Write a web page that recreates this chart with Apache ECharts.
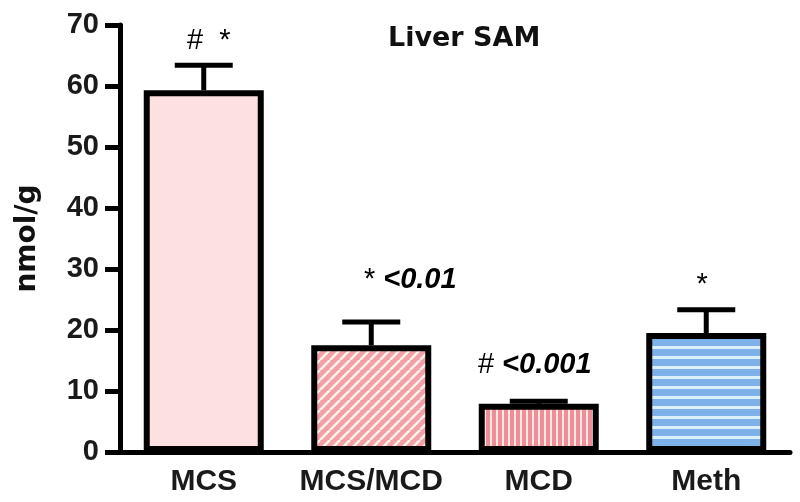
<!DOCTYPE html>
<html><head><meta charset="utf-8">
<script src="https://cdn.jsdelivr.net/npm/echarts@6/dist/echarts.min.js"></script>
<style>html,body{margin:0;padding:0;background:#fff}#c{width:800px;height:502px}</style>
</head><body><div id="c"></div>
<script>
const categories = ['MCS', 'MCS/MCD', 'MCD', 'Meth'];
const means = [59.3, 17.5, 7.9, 19.5];
const sems = [4.1, 3.8, 0.4, 3.8];
const annotations = ['{s|#  *}', '{s|* }{p|<0.01}', '{s|# }{p|<0.001}', '{s|*}'];
const yTicks = [0, 10, 20, 30, 40, 50, 60, 70];

function pattern(kind) {
  const c = document.createElement('canvas');
  const x = c.getContext('2d');
  if (kind === 'diag') {
    c.width = 10; c.height = 10;
    x.fillStyle = '#f2a0a6'; x.fillRect(0, 0, 10, 10);
    x.strokeStyle = '#fdf3ec'; x.lineWidth = 2.5;
    for (let k = -10; k <= 20; k += 10) {
      x.beginPath(); x.moveTo(k, 10); x.lineTo(k + 10, 0); x.stroke();
    }
  } else if (kind === 'vert') {
    c.width = 6; c.height = 6;
    x.fillStyle = '#ef8e98'; x.fillRect(0, 0, 6, 6);
    x.fillStyle = '#fde8e4'; x.fillRect(4, 0, 2, 6);
  } else {
    c.width = 10; c.height = 10;
    x.fillStyle = '#7eb1e8'; x.fillRect(0, 0, 10, 10);
    x.fillStyle = '#dcf0fb'; x.fillRect(0, 6, 10, 3);
  }
  return c;
}
const fills = ['#fde1e2', {image: pattern('diag'), repeat: 'repeat'}, {image: pattern('vert'), repeat: 'repeat'}, {image: pattern('horiz'), repeat: 'repeat'}];
const annOffsets = [[5, -24], [39, -42], [-4, -36], [-4, -25]];

const chart = echarts.init(document.getElementById('c'));
const sans = '"Liberation Sans"';
const wide = '"DejaVu Sans"';
chart.setOption({
  animation: false,
  title: {text: 'Liver SAM', left: 383, top: 20, textStyle: {fontFamily: wide, fontWeight: 'bold', fontSize: 27, color: '#111'}},
  grid: {left: 120, right: 10, top: 25, bottom: 50, outerBoundsMode: 'none', containLabel: false},
  xAxis: {
    type: 'category', data: categories,
    axisLine: {lineStyle: {color: '#000', width: 5}},
    axisTick: {alignWithLabel: true, length: 12, lineStyle: {color: '#000', width: 4}},
    axisLabel: {interval: 0, fontFamily: sans, fontWeight: 'bold', fontSize: 30, color: '#1a1a1a', margin: 15}
  },
  yAxis: {
    type: 'value', min: 0, max: 70, interval: 10,
    name: 'nmol/g', nameLocation: 'middle', nameGap: 78, nameRotate: 90,
    nameTextStyle: {fontFamily: wide, fontWeight: 'bold', fontSize: 28, color: '#111'},
    axisLine: {show: true, lineStyle: {color: '#000', width: 5}},
    axisTick: {show: true, length: 15, lineStyle: {color: '#000', width: 5}},
    axisLabel: {fontFamily: sans, fontWeight: 'bold', fontSize: 29, color: '#1a1a1a', margin: 21,
      formatter: v => yTicks.includes(v) ? String(v) : ''},
    splitLine: {show: false}
  },
  series: [
    {
      type: 'bar', barWidth: 120, z: 2,
      data: means.map((v, i) => ({value: v, itemStyle: {color: fills[i], borderColor: '#000', borderWidth: 6}}))
    },
    {
      type: 'custom', z: 3,
      data: means.map((v, i) => [i, v, v + sems[i]]),
      renderItem: function (params, api) {
        const i = api.value(0);
        const top = api.coord([i, api.value(2)]);
        const base = api.coord([i, api.value(1)]);
        const off = annOffsets[params.dataIndex];
        return {
          type: 'group', children: [
            {type: 'line', shape: {x1: base[0], y1: base[1], x2: top[0], y2: top[1]}, style: {stroke: '#000', lineWidth: 5}},
            {type: 'line', shape: {x1: top[0] - 29, y1: top[1], x2: top[0] + 29, y2: top[1]}, style: {stroke: '#000', lineWidth: 5}},
            {type: 'text', x: top[0] + off[0], y: top[1] + off[1], style: {
              text: annotations[params.dataIndex], align: 'center', verticalAlign: 'middle',
              rich: {
                s: {fontFamily: sans, fontSize: 29, color: '#3a3a3a'},
                p: {fontFamily: sans, fontSize: 29, fontWeight: 'bold', fontStyle: 'italic', color: '#1a1a1a'}
              }
            }}
          ]
        };
      }
    }
  ]
});
</script></body></html>
